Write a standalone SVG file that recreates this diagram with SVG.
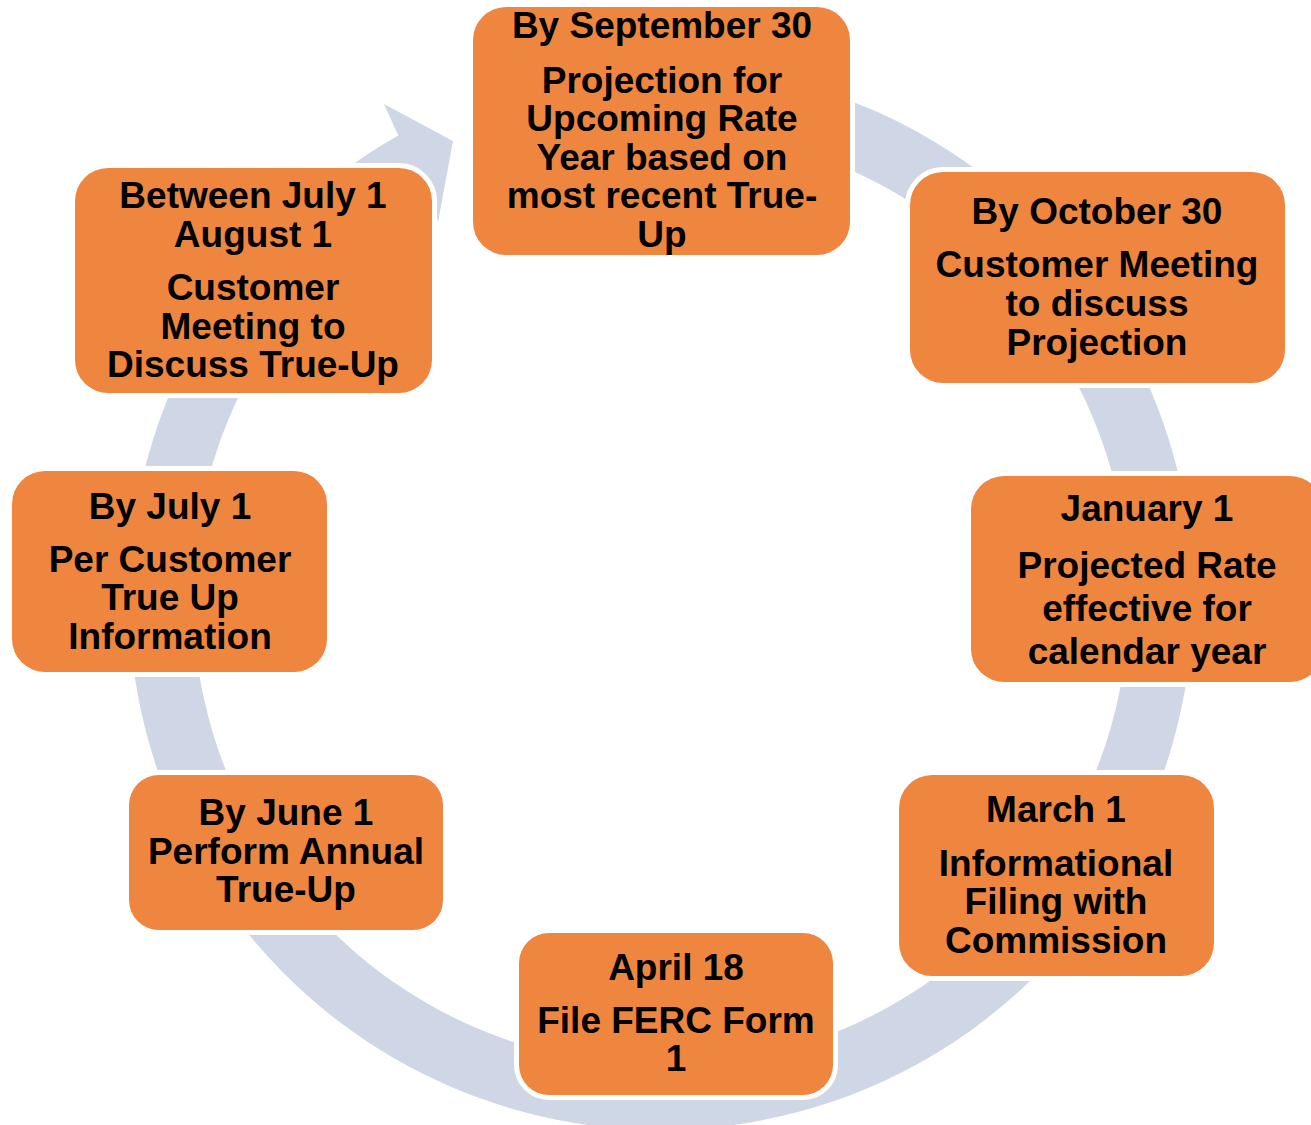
<svg xmlns="http://www.w3.org/2000/svg" width="1311" height="1125" viewBox="0 0 1311 1125">
<style>
.box{fill:#EE8640;stroke:#FFFFFF;stroke-width:10;paint-order:stroke}
.t{font-family:"Liberation Sans",Arial,sans-serif;font-weight:bold;font-size:37px;fill:#000;text-anchor:middle}
</style>
<rect width="1311" height="1125" fill="#FFFFFF"/>
<g id="connectors">
<path d="M 661,66 A 532 532 0 1 1 398.2,135.4 L 384,104 L 453,141 L 438,222 L 429.8,191.1 A 468 468 0 1 0 661,130 Z" fill="#CFD7E7"/>
</g>
<g id="node-sep30">
<rect class="box" x="473" y="7" width="377" height="248" rx="33"/>
<text class="t" x="662" y="38">By September 30</text>
<text class="t" x="662" y="93">Projection for</text>
<text class="t" x="662" y="131">Upcoming Rate</text>
<text class="t" x="662" y="170">Year based on</text>
<text class="t" x="662" y="208">most recent True-</text>
<text class="t" x="662" y="247">Up</text>
</g>
<g id="node-oct30">
<rect class="box" x="910" y="172" width="375" height="211" rx="33"/>
<text class="t" x="1097" y="224">By October 30</text>
<text class="t" x="1097" y="277">Customer Meeting</text>
<text class="t" x="1097" y="316">to discuss</text>
<text class="t" x="1097" y="355">Projection</text>
</g>
<g id="node-jan1">
<rect class="box" x="971" y="476" width="352" height="206" rx="33"/>
<text class="t" x="1147" y="521">January 1</text>
<text class="t" x="1147" y="578">Projected Rate</text>
<text class="t" x="1147" y="621">effective for</text>
<text class="t" x="1147" y="664">calendar year</text>
</g>
<g id="node-mar1">
<rect class="box" x="899" y="775" width="315" height="201" rx="33"/>
<text class="t" x="1056" y="822">March 1</text>
<text class="t" x="1056" y="876">Informational</text>
<text class="t" x="1056" y="914">Filing with</text>
<text class="t" x="1056" y="953">Commission</text>
</g>
<g id="node-apr18">
<rect class="box" x="519" y="933" width="314" height="162" rx="30"/>
<text class="t" x="676" y="980">April 18</text>
<text class="t" x="676" y="1033">File FERC Form</text>
<text class="t" x="676" y="1071">1</text>
</g>
<g id="node-jun1">
<rect class="box" x="129" y="775" width="314" height="155" rx="30"/>
<text class="t" x="286" y="825">By June 1</text>
<text class="t" x="286" y="864">Perform Annual</text>
<text class="t" x="286" y="902">True-Up</text>
</g>
<g id="node-jul1">
<rect class="box" x="12" y="471" width="315" height="201" rx="33"/>
<text class="t" x="170" y="519">By July 1</text>
<text class="t" x="170" y="572">Per Customer</text>
<text class="t" x="170" y="610">True Up</text>
<text class="t" x="170" y="649">Information</text>
</g>
<g id="node-jul-aug">
<rect class="box" x="75" y="168" width="357" height="225" rx="33"/>
<text class="t" x="253" y="208">Between July 1</text>
<text class="t" x="253" y="247">August 1</text>
<text class="t" x="253" y="300">Customer</text>
<text class="t" x="253" y="339">Meeting to</text>
<text class="t" x="253" y="377">Discuss True-Up</text>
</g>
</svg>
